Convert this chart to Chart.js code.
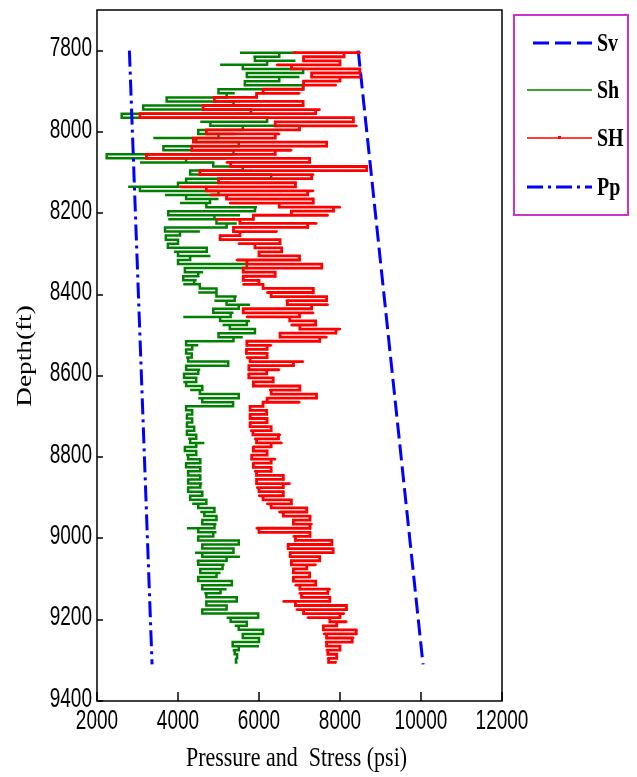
<!DOCTYPE html>
<html lang="en">
<head>
<meta charset="UTF-8">
<title>Pressure and Stress vs Depth</title>
<script src="https://cdn.jsdelivr.net/npm/chart.js"></script>
<style>
  body { margin: 0; background: #fff; }
  #chartCanvas { display: block; }
</style>
</head>
<body>
<canvas id="chartCanvas" width="637" height="777"></canvas>
<script>
// depth rows (ft) shared by the Sh / SH logs
const depth = [
  7805, 7815, 7825, 7835, 7845, 7855, 7865, 7875, 7885, 7895, 7905, 7915, 7925, 7935, 7945, 7955, 7965, 7975, 7985, 7995,
  8005, 8015, 8025, 8035, 8045, 8055, 8065, 8075, 8085, 8095, 8105, 8115, 8125, 8135, 8145, 8155, 8165, 8175, 8185, 8195,
  8205, 8215, 8225, 8235, 8245, 8255, 8265, 8275, 8285, 8295, 8305, 8315, 8325, 8335, 8345, 8355, 8365, 8375, 8385, 8395,
  8405, 8415, 8425, 8435, 8445, 8455, 8465, 8475, 8485, 8495, 8505, 8515, 8525, 8535, 8545, 8555, 8565, 8575, 8585, 8595,
  8605, 8615, 8625, 8635, 8645, 8655, 8665, 8675, 8685, 8695, 8705, 8715, 8725, 8735, 8745, 8755, 8765, 8775, 8785, 8795,
  8805, 8815, 8825, 8835, 8845, 8855, 8865, 8875, 8885, 8895, 8905, 8915, 8925, 8935, 8945, 8955, 8965, 8975, 8985, 8995,
  9005, 9015, 9025, 9035, 9045, 9055, 9065, 9075, 9085, 9095, 9105, 9115, 9125, 9135, 9145, 9155, 9165, 9175, 9185, 9195,
  9205, 9215, 9225, 9235, 9245, 9255, 9265, 9275, 9285, 9295, 9305
];

// Sh (min horizontal stress, psi): left and right swing of the log in each row
const shLo = [
  5530, 5860, 5900, 5040, 5600, 6000, 5700, 5700, 5650, 5040, 5000, 3720, 3720, 4450, 3140, 3600, 2610, 4550, 4800, 4800,
  4500, 3390, 4450, 4300, 3640, 4870, 2240, 3060, 4870, 4500, 4300, 4700, 4200, 2770, 3060, 3680, 4200, 4050, 4700, 4600,
  3760, 3760, 4950, 4700, 3680, 3720, 3700, 3750, 3750, 3900, 4000, 4000, 4000, 4200, 4170, 4170, 4130, 4130, 4540, 4500,
  4950, 4900, 5200, 5100, 4870, 4130, 5040, 5100, 5280, 5300, 5000, 4210, 4200, 4200, 4200, 4200, 4250, 4250, 4200, 4150,
  4150, 4130, 4200, 4300, 4540, 4500, 4600, 4170, 4200, 4200, 4220, 4200, 4220, 4220, 4220, 4250, 4300, 4200, 4170, 4200,
  4250, 4250, 4200, 4250, 4250, 4300, 4250, 4300, 4250, 4300, 4300, 4350, 4500, 4550, 4650, 4700, 4600, 4220, 4500, 4550,
  4500, 4700, 4600, 4420, 4600, 4460, 4500, 4550, 4550, 4500, 4500, 4600, 4600, 4650, 4700, 4800, 4700, 4700, 4600, 5200,
  5300, 5400, 5500, 5600, 5600, 5400, 5350, 5350, 5400, 5420, 5430
];
const shHi = [
  6930, 6500, 6900, 6200, 6350, 7090, 7000, 6500, 6200, 7090, 5400, 5200, 4400, 5370, 5400, 5800, 6000, 6200, 7000, 5600,
  5400, 5000, 4950, 5500, 5000, 5370, 5200, 4200, 5780, 5600, 6100, 6300, 5300, 4000, 4050, 5000, 5000, 4790, 5950, 5900,
  5530, 4900, 5450, 5200, 4540, 4050, 3950, 4000, 4300, 4710, 4800, 4300, 4870, 5700, 4620, 4500, 4460, 4400, 4950, 4950,
  5450, 5400, 5780, 5500, 5370, 5300, 5780, 5700, 5700, 5900, 5600, 5370, 4500, 4350, 4340, 4340, 4550, 5240, 4550, 4500,
  4450, 4450, 4500, 4600, 4800, 5500, 5360, 5360, 4380, 4350, 4380, 4350, 4380, 4400, 4350, 4450, 4650, 4450, 4400, 4450,
  4500, 4550, 4450, 4550, 4500, 4550, 4600, 4550, 4500, 4600, 4650, 4700, 4800, 4900, 4950, 4950, 4950, 4900, 4950, 4870,
  4900, 5500, 5300, 5370, 5530, 5200, 5150, 5100, 5050, 4950, 4900, 5330, 5200, 5050, 5100, 5450, 5200, 5200, 5050, 5980,
  5700, 5700, 6100, 6100, 6000, 6000, 6000, 5500, 5450, 5460, 5470
];

// SH (max horizontal stress, psi)
const bigLo = [
  6850, 7180, 7100, 6440, 6800, 7400, 7300, 7180, 7100, 6200, 6100, 4870, 4900, 6200, 4620, 5500, 3060, 6500, 6400, 5500,
  4700, 4800, 4380, 5500, 4340, 5300, 3220, 5200, 5300, 5800, 4540, 5500, 5000, 4050, 4700, 4800, 5200, 5280, 6500, 7000,
  6800, 4950, 5530, 5800, 5370, 5040, 5040, 5500, 5900, 6100, 6000, 5450, 5700, 5780, 5610, 5700, 5610, 5610, 6100, 6200,
  6300, 6680, 6700, 6500, 5610, 5700, 6760, 6800, 7010, 6900, 6520, 6500, 5700, 5700, 5690, 5700, 5780, 6350, 5750, 5740,
  5750, 5860, 5860, 6270, 6300, 6400, 6200, 5780, 5780, 5800, 5780, 5800, 5780, 5800, 5850, 5900, 5940, 5850, 5860, 5850,
  5820, 5850, 5860, 5900, 5940, 5950, 5940, 5950, 6000, 6000, 6100, 6200, 6300, 6500, 6600, 6850, 6850, 5940, 6000, 6850,
  6900, 6930, 6720, 6800, 6770, 6800, 6800, 6850, 6850, 6900, 6850, 6900, 7010, 7000, 7050, 6600, 6900, 6930, 7100, 7200,
  7750, 7670, 7590, 7600, 7670, 7650, 7670, 7670, 7700, 7700, 7720
];
const bigHi = [
  8490, 8100, 8000, 8000, 7900, 8490, 8500, 8000, 7900, 7090, 7000, 5940, 5500, 7090, 7500, 7400, 6700, 8330, 8410, 7000,
  6500, 6400, 7600, 7670, 6800, 6400, 5400, 7250, 7300, 8660, 7340, 7300, 6900, 6900, 7340, 7200, 7300, 7340, 8000, 7840,
  7700, 5860, 7420, 7200, 6440, 5530, 5600, 6520, 6500, 6560, 6500, 7000, 7000, 7550, 6360, 6400, 5940, 6000, 7340, 7340,
  7200, 7670, 7700, 7300, 7340, 7000, 7340, 7400, 8000, 7900, 7670, 7500, 6300, 6200, 6190, 6200, 7090, 6850, 6500, 6190,
  6200, 6350, 6300, 7010, 7000, 7420, 7000, 6100, 6150, 6190, 6150, 6200, 6150, 6300, 6520, 6480, 6560, 6300, 6190, 6200,
  6400, 6300, 6270, 6300, 6500, 6600, 6760, 6600, 6500, 6600, 6700, 6800, 6900, 7180, 7200, 7260, 7300, 7260, 7260, 7260,
  7300, 7800, 7840, 7830, 7500, 7500, 7400, 7180, 7200, 7250, 7340, 7400, 7750, 7700, 7600, 7750, 7700, 8160, 8100, 8000,
  8160, 7920, 8410, 8400, 8330, 8300, 8000, 8000, 7920, 7920, 7900
];

// vertical stress and pore pressure trends
const svDepth = [7800, 9310];
const svVal = [8450, 10050];
const ppDepth = [7800, 9310];
const ppVal = [2800, 3360];

const xTicks = [2000, 4000, 6000, 8000, 10000, 12000];
const yTicks = [7800, 8000, 8200, 8400, 8600, 8800, 9000, 9200, 9400];

const BLUE = '#0000ff', GREEN = '#008000', RED = '#ff0000';
const SV_DASH = [16, 6];
const PP_DASH = [16, 5, 3, 5];

function pts(xs, ys) {
    return xs.map((v, i) => ({ x: v, y: ys[i] }));
}

// a log swinging left and right within each depth row
function swing(lo, hi) {
    const out = [];
    depth.forEach((d, i) => {
        if (i % 2 === 0) out.push({ x: lo[i], y: d }, { x: hi[i], y: d });
        else out.push({ x: hi[i], y: d }, { x: lo[i], y: d });
    });
    return out;
}

// text in the figure is taller than wide, so draw it stretched
function stretchText(ctx, txt, x, y, align, sy, rotate) {
    ctx.save();
    ctx.translate(x, y);
    if (rotate) {
        ctx.rotate(-Math.PI / 2);
        ctx.scale(sy, 1);
    } else {
        ctx.scale(1, sy);
    }
    ctx.textAlign = align;
    ctx.textBaseline = 'middle';
    ctx.fillText(txt, 0, 0);
    ctx.restore();
}

// frame, inward ticks, labels and the boxed legend
const framePlugin = {
    id: 'frame',
    afterDraw(chart) {
        const { ctx, chartArea: a } = chart;
        const xs = chart.scales.x, ys = chart.scales.y;
        ctx.save();
        ctx.strokeStyle = '#000';
        ctx.lineWidth = 1.5;
        ctx.setLineDash([]);
        ctx.strokeRect(a.left, a.top, a.right - a.left, a.bottom - a.top);

        ctx.beginPath();
        xTicks.forEach(v => {
            const px = Math.round(xs.getPixelForValue(v));
            ctx.moveTo(px, a.bottom);
            ctx.lineTo(px, a.bottom - 9);
        });
        yTicks.forEach(v => {
            const py = Math.round(ys.getPixelForValue(v));
            ctx.moveTo(a.left, py);
            ctx.lineTo(a.left + 6, py);
        });
        ctx.stroke();

        ctx.fillStyle = '#000';
        ctx.font = '19px "Liberation Sans Narrow", "Arial Narrow", sans-serif';
        xTicks.forEach(v => stretchText(ctx, String(v), xs.getPixelForValue(v), a.bottom + 20, 'center', 1.45));
        yTicks.forEach(v => stretchText(ctx, String(v), a.left - 5, ys.getPixelForValue(v) - 2, 'right', 1.45));

        ctx.font = '22px "Liberation Serif", "Times New Roman", serif';
        stretchText(ctx, 'Pressure and  Stress (psi)', (a.left + a.right) / 2 - 3, 759, 'center', 1.2);
        ctx.font = '21px "Liberation Serif", "Times New Roman", serif';
        stretchText(ctx, 'Depth(ft)', 25, 356, 'center', 1.3, true);

        // legend box
        const box = { l: 514, t: 15, r: 628, b: 215 };
        ctx.strokeStyle = '#cc33cc';
        ctx.lineWidth = 2;
        ctx.strokeRect(box.l, box.t, box.r - box.l, box.b - box.t);

        const rows = [43, 90, 138, 187];
        chart.data.datasets.slice().sort((p, q) => p.legendIndex - q.legendIndex).forEach((ds, i) => {
            const y = rows[i];
            ctx.save();
            ctx.strokeStyle = ds.borderColor;
            ctx.lineWidth = ds.legendWidth || ds.borderWidth;
            ctx.setLineDash(ds.borderDash || []);
            ctx.beginPath();
            ctx.moveTo(ds.borderDash && ds.borderDash.length === 2 ? 533 : 527, y);
            ctx.lineTo(592, y);
            ctx.stroke();
            if (ds.pointRadius > 0) {
                ctx.fillStyle = ds.borderColor;
                ctx.fillRect(558, y - 2, 3, 3);
            }
            ctx.restore();
            ctx.fillStyle = '#000';
            ctx.font = 'bold 20px "Liberation Serif", "Times New Roman", serif';
            stretchText(ctx, ds.label, 597, y + 1, 'left', 1.3);
        });
        ctx.restore();
    }
};

const ctx = document.getElementById('chartCanvas').getContext('2d');

new Chart(ctx, {
    type: 'scatter',
    data: {
        datasets: [
            {
                label: 'Pp', legendIndex: 3, order: 0,
                data: pts(ppVal, ppDepth),
                showLine: true, borderColor: BLUE, borderWidth: 3,
                borderDash: PP_DASH, pointRadius: 0
            },
            {
                label: 'SH', legendIndex: 2, order: 1,
                data: swing(bigLo, bigHi),
                showLine: true, stepped: 'before', borderColor: RED, borderWidth: 2.8, legendWidth: 1.5,
                pointRadius: 1.4, pointStyle: 'rect', pointBackgroundColor: RED,
                pointBorderWidth: 0
            },
            {
                label: 'Sh', legendIndex: 1, order: 2,
                data: swing(shLo, shHi),
                showLine: true, stepped: 'before', borderColor: GREEN, borderWidth: 2.5, legendWidth: 1.5,
                pointRadius: 0
            },
            {
                label: 'Sv', legendIndex: 0, order: 3,
                data: pts(svVal, svDepth),
                showLine: true, borderColor: BLUE, borderWidth: 3,
                borderDash: SV_DASH, pointRadius: 0
            }
        ]
    },
    options: {
        responsive: false,
        animation: false,
        devicePixelRatio: 1,
        layout: { padding: { top: 10, right: 135, left: 0, bottom: 0 } },
        plugins: {
            legend: { display: false },
            tooltip: { enabled: false }
        },
        scales: {
            x: {
                type: 'linear', min: 2000, max: 12000,
                ticks: { display: false },
                grid: { display: false },
                border: { display: false },
                afterFit: s => { s.height = 76; }
            },
            y: {
                type: 'linear', reverse: true, min: 7700, max: 9400,
                ticks: { display: false },
                grid: { display: false },
                border: { display: false },
                afterFit: s => { s.width = 97; }
            }
        }
    },
    plugins: [framePlugin]
});
</script>
</body>
</html>
